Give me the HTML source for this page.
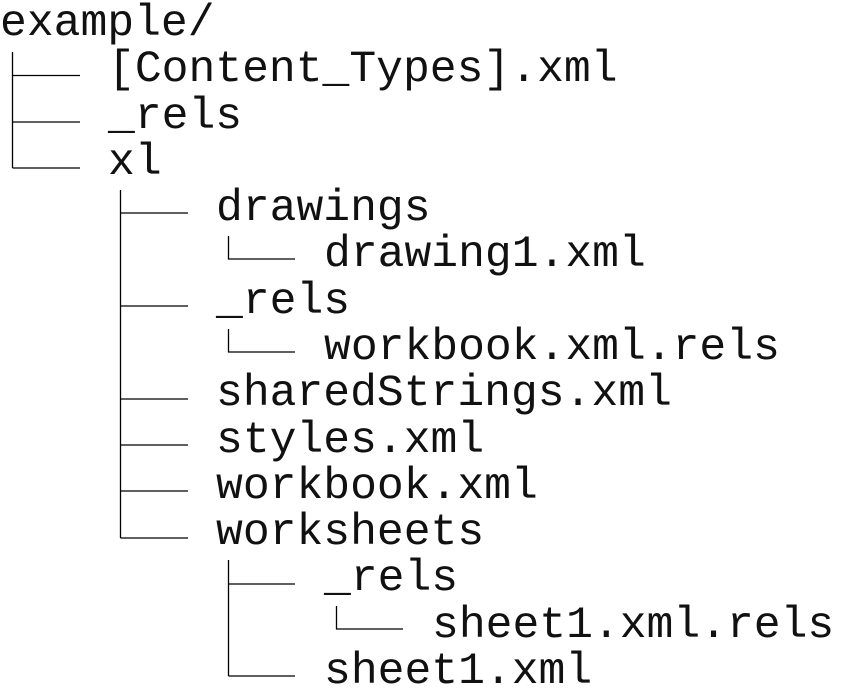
<!DOCTYPE html>
<html><head><style>
body{margin:0;width:842px;height:695px;background:#fff;overflow:hidden;position:relative}
.t{position:absolute;font-family:"Liberation Mono",monospace;font-size:44.7px;line-height:46px;white-space:pre;color:#111;margin-top:3px}
svg{position:absolute;left:0;top:0}
</style></head><body>
<div class="t" style="left:0;top:-2px">example/</div>
<div class="t" style="left:108px;top:44px">[Content_Types].xml</div>
<div class="t" style="left:108px;top:91px">_rels</div>
<div class="t" style="left:108px;top:137px">xl</div>
<div class="t" style="left:216px;top:183px">drawings</div>
<div class="t" style="left:324px;top:229px">drawing1.xml</div>
<div class="t" style="left:216px;top:276px">_rels</div>
<div class="t" style="left:324px;top:322px">workbook.xml.rels</div>
<div class="t" style="left:216px;top:368px">sharedStrings.xml</div>
<div class="t" style="left:216px;top:415px">styles.xml</div>
<div class="t" style="left:216px;top:461px">workbook.xml</div>
<div class="t" style="left:216px;top:507px">worksheets</div>
<div class="t" style="left:324px;top:553px">_rels</div>
<div class="t" style="left:432px;top:600px">sheet1.xml.rels</div>
<div class="t" style="left:324px;top:646px">sheet1.xml</div>
<svg width="842" height="695" stroke="#000" stroke-width="1.3" fill="none">
<path d="M12.5 52V168M12.5 75.5H80M12.5 122H80M12.5 168H80"/>
<path d="M120.5 190V538M120.5 213H188M120.5 306H188M120.5 399H188M120.5 445H188M120.5 491H188M120.5 538H188"/>
<path d="M228.5 236V259H295M228.5 329V352H295"/>
<path d="M228.5 560V676M228.5 584H295M228.5 676H295"/>
<path d="M336.5 606V629H403"/>
</svg>
</body></html>
